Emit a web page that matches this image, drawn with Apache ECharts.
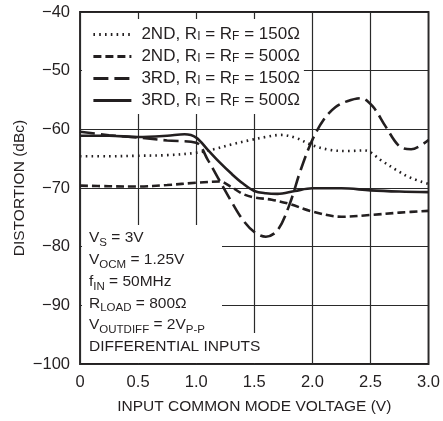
<!DOCTYPE html>
<html>
<head>
<meta charset="utf-8">
<script src="https://cdn.jsdelivr.net/npm/echarts@6/dist/echarts.min.js"></script>
<style>
html,body{margin:0;padding:0;background:#fff;}
#c{width:443px;height:421px;}
</style>
</head>
<body>
<div id="c"></div>
<script>
// ---- data ----
var xTicks = [0, 0.5, 1.0, 1.5, 2.0, 2.5, 3.0];
var yTicks = [-100, -90, -80, -70, -60, -50, -40];

var x2nd150 = [0, 0.25, 0.5, 0.75, 1.0, 1.15, 1.3, 1.45, 1.6, 1.73, 1.85, 2.0, 2.15, 2.3, 2.45, 2.6, 2.72, 2.85, 3.0];
var y2nd150 = [-64.6, -64.6, -64.5, -64.4, -64.0, -63.4, -62.6, -61.9, -61.3, -60.95, -61.4, -62.7, -63.5, -63.7, -63.6, -65.4, -66.9, -68.3, -69.3];

var x2nd500 = [0, 0.25, 0.5, 0.75, 1.0, 1.2, 1.3, 1.4, 1.5, 1.65, 1.8, 2.0, 2.25, 2.5, 2.75, 3.0];
var y2nd500 = [-69.6, -69.7, -69.75, -69.5, -69.1, -68.9, -69.8, -71.0, -71.6, -72.0, -72.7, -74.0, -74.9, -74.6, -74.2, -73.9];

var x3rd150 = [0, 0.25, 0.5, 0.75, 1.0, 1.1, 1.2, 1.3, 1.4, 1.5, 1.6, 1.7, 1.8, 1.9, 2.0, 2.1, 2.2, 2.3, 2.42, 2.52, 2.63, 2.75, 2.85, 3.0];
var y3rd150 = [-60.4, -61.0, -61.4, -61.9, -62.3, -65.2, -68.7, -72.2, -75.4, -77.5, -78.3, -77.2, -73.0, -66.9, -61.8, -58.3, -56.2, -55.2, -54.7, -56.1, -59.5, -62.9, -63.4, -61.8];

var x3rd500 = [0, 0.25, 0.5, 0.75, 0.9, 1.0, 1.1, 1.2, 1.3, 1.4, 1.5, 1.6, 1.7, 1.85, 2.0, 2.25, 2.5, 2.75, 3.0];
var y3rd500 = [-61.1, -61.1, -61.3, -61.1, -60.85, -61.4, -63.5, -65.6, -67.5, -69.2, -70.5, -70.9, -71.0, -70.5, -70.05, -70.05, -70.4, -70.6, -70.7];

var seriesNames = ['2ND150', '2ND500', '3RD150', '3RD500'];
var legendLabels = {
  '2ND150': ['2ND', '150Ω'],
  '2ND500': ['2ND', '500Ω'],
  '3RD150': ['3RD', '150Ω'],
  '3RD500': ['3RD', '500Ω']
};

// ---- build ----
function pairs(xs, ys) { return xs.map(function (x, i) { return [x, ys[i]]; }); }

var FONT = "'Liberation Sans', Arial, Helvetica, sans-serif";
var INK = '#231f20';

var lineStyles = [
  { type: [1.6, 4.2], width: 2.6, cap: 'butt' },
  { type: [8, 4], width: 2.6 },
  { type: [15, 6], width: 2.6 },
  { type: 'solid', width: 2.6 }
];
var datas = [pairs(x2nd150, y2nd150), pairs(x2nd500, y2nd500), pairs(x3rd150, y3rd150), pairs(x3rd500, y3rd500)];

var series = seriesNames.map(function (n, i) {
  var ls = lineStyles[i];
  return {
    name: n,
    type: 'line',
    data: datas[i],
    smooth: 0.35,
    symbol: 'none',
    showSymbol: false,
    color: INK,
    lineStyle: { color: INK, width: ls.width, type: ls.type, cap: ls.cap || 'butt' },
    z: 2
  };
});

var chart = echarts.init(document.getElementById('c'), null, { renderer: 'canvas' });
chart.setOption({
  animation: false,
  backgroundColor: '#fff',
  grid: { left: 80, right: 10, top: 12, bottom: 57, show: true, borderColor: INK, borderWidth: 1.8, backgroundColor: 'transparent' },
  xAxis: {
    type: 'value', min: 0, max: 3, interval: 0.5,
    name: 'INPUT COMMON MODE VOLTAGE (V)', nameLocation: 'middle', nameGap: 35,
    nameMoveOverlap: false,
    nameTextStyle: { fontFamily: FONT, fontSize: 15.5, color: INK },
    axisLine: { show: false }, axisTick: { show: false },
    axisLabel: { margin: 10, fontFamily: FONT, fontSize: 16.5, color: INK,
      formatter: function (v) { return v === 0 ? '0' : v.toFixed(1); } },
    splitLine: { show: true, lineStyle: { color: '#2a2a2a', width: 1.2 } }
  },
  yAxis: {
    type: 'value', min: -100, max: -40, interval: 10,
    name: 'DISTORTION (dBc)', nameLocation: 'middle', nameGap: 52,
    nameMoveOverlap: false,
    nameTextStyle: { fontFamily: FONT, fontSize: 15.5, color: INK },
    axisLine: { show: false }, axisTick: { show: false },
    axisLabel: { margin: 10, fontFamily: FONT, fontSize: 16.5, color: INK,
      formatter: function (v) { return String(v).replace('-', '\u2212'); } },
    splitLine: { show: true, lineStyle: { color: '#2a2a2a', width: 1.2 } }
  },
  legend: {
    orient: 'vertical', left: 82, top: 19,
    data: seriesNames,
    backgroundColor: '#fff',
    padding: [7, 4, 5, 10],
    itemWidth: 38, itemHeight: 16, itemGap: 5,
    selectedMode: false,
    itemStyle: { color: 'transparent', borderWidth: 0, opacity: 0 },
    lineStyle: { width: 2.8 },
    formatter: function (n) {
      var l = legendLabels[n];
      return '{n|' + l[0] + ', R}{s|I}{n| = R}{s|F}{n| = ' + l[1] + '}';
    },
    textStyle: {
      padding: [0, 0, 0, 5],
      color: INK, fontFamily: FONT, fontSize: 17,
      rich: {
        n: { fontFamily: FONT, fontSize: 17, color: INK, lineHeight: 16 },
        s: { fontFamily: FONT, fontSize: 12, color: INK, lineHeight: 10, verticalAlign: 'bottom' }
      }
    }
  },
  graphic: [
    { type: 'rect', z: 3, shape: { x: 82, y: 225, width: 140, height: 138 }, style: { fill: '#fff' } },
    { type: 'rect', z: 3, shape: { x: 82, y: 333, width: 183, height: 30 }, style: { fill: '#fff' } },
    { type: 'text', z: 4, x: 89, y: 227,
      style: {
        text: '{n|V}{s|S}{n| = 3V}\n{n|V}{s|OCM}{n| = 1.25V}\n{n|f}{s|IN}{n| = 50MHz}\n{n|R}{s|LOAD}{n| = 800Ω}\n{n|V}{s|OUTDIFF}{n| = 2V}{s|P-P}\n{n|DIFFERENTIAL INPUTS}',
        fill: INK, font: '15px ' + FONT, verticalAlign: 'top', align: 'left',
        rich: {
          n: { fontFamily: FONT, fontSize: 15.5, fill: INK, lineHeight: 21.8 },
          s: { fontFamily: FONT, fontSize: 11.5, fill: INK, lineHeight: 14, verticalAlign: 'bottom' }
        }
      }
    }
  ],
  series: series
});
</script>
</body>
</html>
